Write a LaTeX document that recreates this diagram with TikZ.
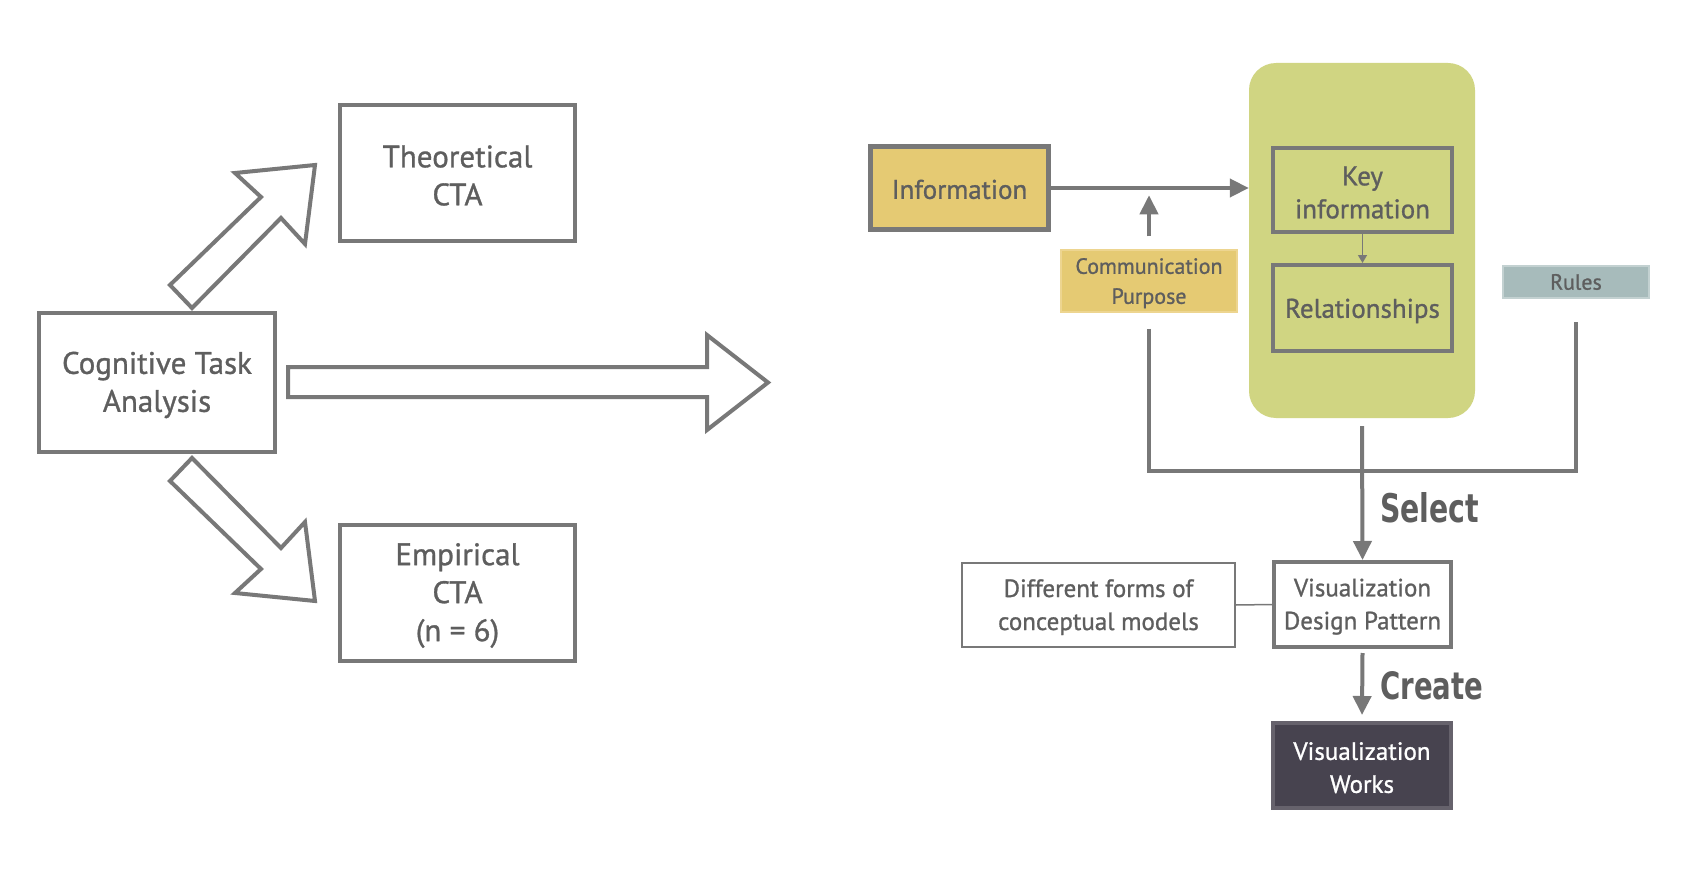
\documentclass[tikz,border=0pt]{standalone}
\usepackage{fontspec}
\usepackage{graphicx}
\setmainfont{PT Sans}[FakeBold=1.0]
\newfontfamily\labelfont{DejaVu Sans}
\usetikzlibrary{arrows.meta,calc}
\definecolor{lgray}{HTML}{787878}
\definecolor{tgray}{HTML}{5E5E5E}
\definecolor{infofill}{HTML}{E5CA73}
\definecolor{infoedge}{HTML}{EDD590}
\definecolor{greenfill}{HTML}{D0D582}
\definecolor{rulesfill}{HTML}{A7BBBB}
\definecolor{rulesedge}{HTML}{C3D1D1}
\definecolor{darkfill}{HTML}{47434F}
\definecolor{darkedge}{HTML}{66626C}
\tikzset{
  x=1pt, y=-1pt,
  box/.style={draw=lgray, line width=4pt, fill=white, inner sep=0pt, align=center, text=tgray},
  bigtxt/.style={font=\fontsize{31}{38}\selectfont},
  midtxt/.style={font=\fontsize{27}{33}\selectfont},
  smalltxt/.style={font=\fontsize{25}{33}\selectfont},
  tinytxt/.style={font=\fontsize{22}{30}\selectfont},
  blockarrow/.style={draw=lgray, line width=4pt, fill=white, line join=miter},
  conn/.style={draw=lgray, line width=4pt},
  arr/.style={draw=lgray, line width=4pt, -{Triangle[length=19pt,width=18pt]}},
  thinarr/.style={draw=lgray, line width=1.5pt, -{Triangle[length=8pt,width=9pt]}},
  thinconn/.style={draw=lgray, line width=1.5pt},
  verb/.style={inner sep=0pt, anchor=south west, text=tgray},
}
\begin{document}
\begin{tikzpicture}
\fill[white] (0,0) rectangle (1684,872);
\useasboundingbox (0,0) rectangle (1684,872);

% ---------- left part ----------
\node[box, bigtxt, minimum width=236pt, minimum height=139pt] (cta) at (157,382.5) {\rule{0pt}{27pt}Cognitive Task\\Analysis};
\node[box, bigtxt, minimum width=235pt, minimum height=136pt] (theo) at (457.5,173) {\rule{0pt}{27pt}Theoretical\\CTA};
\node[box, bigtxt, minimum width=235pt, minimum height=136pt] (emp) at (457.5,593) {\rule{0pt}{27pt}Empirical\\CTA\\(n = 6)};

% block arrows
\draw[blockarrow] (170,285) -- (261,197) -- (235,173) -- (315,165) -- (305,244) -- (281,218) -- (192,308) -- cycle;
\draw[blockarrow] (170,481) -- (261,569) -- (235,593) -- (315,601) -- (305,522) -- (281,548) -- (192,458) -- cycle;
\draw[blockarrow] (288,367) -- (707,367) -- (707,335) -- (768,382.5) -- (707,430) -- (707,397) -- (288,397) -- cycle;

% ---------- right part ----------
\node[fill=greenfill, rounded corners=27pt, minimum width=226pt, minimum height=355pt, inner sep=0pt] (green) at (1362,240.5) {};
\node[box, midtxt, line width=5pt, fill=infofill, minimum width=178pt, minimum height=83pt] (info) at (959.5,188) {\rule{0pt}{22pt}Information};
\node[box, midtxt, fill=greenfill, minimum width=179pt, minimum height=84pt] (key) at (1362.5,190) {\rule{0pt}{24pt}Key\\information};
\node[box, midtxt, fill=greenfill, minimum width=179pt, minimum height=86pt] (rel) at (1362.5,308) {\rule{0pt}{25pt}Relationships};
\node[draw=infoedge, line width=1.5pt, fill=infofill, tinytxt, text=tgray, align=center, inner sep=0pt, minimum width=176pt, minimum height=62pt] (comm) at (1149,281) {\rule{0pt}{20pt}Communication\\Purpose};
\node[draw=rulesedge, line width=1.5pt, fill=rulesfill, tinytxt, text=tgray, inner sep=0pt, minimum width=146pt, minimum height=32pt] (rules) at (1576,282) {Rules};
\node[box, smalltxt, line width=1.5pt, minimum width=273pt, minimum height=84pt] (diff) at (1098.5,605) {\rule{0pt}{22pt}Different forms of\\conceptual models};
\node[box, smalltxt, minimum width=177pt, minimum height=85pt] (vdp) at (1362.5,604.5) {\rule{0pt}{22pt}Visualization\\Design Pattern};
\node[box, smalltxt, draw=darkedge, fill=darkfill, text=white, minimum width=178pt, minimum height=85pt] (works) at (1362,765.5) {\rule{0pt}{22pt}Visualization\\Works};

% connectors
\draw[arr] (info.east) -- (green.west |- info.east);
\draw[arr] ($(comm.north)+(0,-13)$) -- ($(comm.north)+(0,-54)$);
\draw[thinarr] (key.south) -- (rel.north);
\coordinate (busL) at (1149,471);
\coordinate (busR) at (1576,471);
\draw[conn] ($(comm.south)+(0,16)$) -- (busL) -- (busR) -- ($(rules.south)+(0,23)$);
\draw[arr] ($(green.south)+(0,8)$) -- (vdp.north);
\draw[arr] ($(vdp.south)+(0,4)$) -- ($(works.north)+(0,-6)$);
\draw[thinconn] (diff.east) -- (vdp.west);

% verbs
\node[verb] (sel) at (1380,523) {\resizebox{99pt}{30pt}{\labelfont\bfseries Select}};
\node[verb] (cre) at (1380,700) {\resizebox{103pt}{28pt}{\labelfont\bfseries Create}};
\end{tikzpicture}
\end{document}
